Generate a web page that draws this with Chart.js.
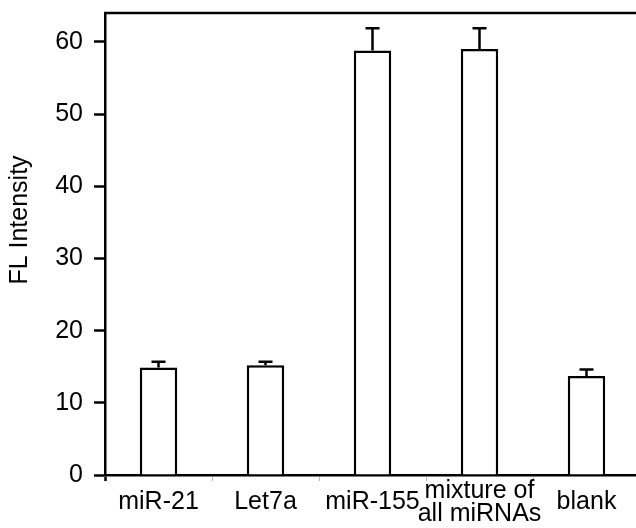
<!DOCTYPE html>
<html>
<head>
<meta charset="utf-8">
<script src="https://cdn.jsdelivr.net/npm/chart.js@4"></script>
<style>
    html, body { margin: 0; padding: 0; background: #fff; overflow: hidden; }
    #wrap { width: 660px; height: 528px; }
</style>
</head>
<body>
<div id="wrap"><canvas id="fl-chart"></canvas></div>
<script>
const categories = ['miR-21', 'Let7a', 'miR-155', ['mixture of', 'all miRNAs'], 'blank'];
const intensity = [14.9, 15.2, 58.8, 59.0, 13.7];
const errors = [0.8, 0.5, 3.1, 2.9, 0.9];
const yTicks = [0, 10, 20, 30, 40, 50, 60];

const family = "'Liberation Sans', Arial, sans-serif";

// error bars (upper half only), top frame line and y title
const errorBars = {
    id: 'errorBars',
    afterDatasetsDraw(chart) {
        const { ctx, scales: { y }, chartArea } = chart;
        const meta = chart.getDatasetMeta(0);
        ctx.save();
        ctx.strokeStyle = '#000';
        ctx.lineWidth = 2.5;
        meta.data.forEach((bar, i) => {
            const top = y.getPixelForValue(intensity[i]);
            const end = y.getPixelForValue(intensity[i] + errors[i]);
            ctx.beginPath();
            ctx.moveTo(bar.x, top);
            ctx.lineTo(bar.x, end);
            ctx.moveTo(bar.x - 7, end);
            ctx.lineTo(bar.x + 7, end);
            ctx.stroke();
        });
        ctx.beginPath();
        ctx.moveTo(chartArea.left - 1, chartArea.top);
        ctx.lineTo(chartArea.right, chartArea.top);
        ctx.stroke();

        ctx.translate(20, chartArea.top + 207);
        ctx.rotate(-Math.PI / 2);
        ctx.fillStyle = '#000';
        ctx.font = `25px ${family}`;
        ctx.textAlign = 'center';
        ctx.textBaseline = 'middle';
        ctx.fillText('FL Intensity', 0, 0);
        ctx.restore();
    }
};

new Chart(document.getElementById('fl-chart').getContext('2d'), {
    type: 'bar',
    data: {
        labels: categories,
        datasets: [{
            data: intensity,
            backgroundColor: '#fff',
            borderColor: '#000',
            borderWidth: 2.5,
            barPercentage: 0.35,
            categoryPercentage: 1,
        }]
    },
    options: {
        responsive: true,
        maintainAspectRatio: false,
        animation: false,
        events: [],
        layout: {
            padding: { top: 13, right: 20, left: 0, bottom: 0 }
        },
        plugins: {
            legend: { display: false },
            title: { display: false },
            tooltip: { enabled: false }
        },
        scales: {
            x: {
                offset: true,
                grid: {
                    offset: true,
                    drawOnChartArea: false,
                    tickLength: 6,
                    color: (c) => c.index === 0 ? '#000' : '#bbb',
                    tickWidth: (c) => c.index === 0 ? 2.5 : 1,
                },
                border: { display: true, color: '#000', width: 2.5 },
                ticks: {
                    color: '#000',
                    font: { family, size: 25, lineHeight: 0.92 },
                    padding: 10,
                    crossAlign: 'center',
                    maxRotation: 0,
                    autoSkip: false,
                },
                afterFit(scale) {
                    scale.height = 53;
                    scale.paddingLeft = 0;
                    scale.paddingRight = 0;
                }
            },
            y: {
                min: 0,
                max: 64,
                afterBuildTicks(scale) {
                    scale.ticks = yTicks.map(v => ({ value: v }));
                },
                grid: {
                    drawOnChartArea: false,
                    tickLength: 11,
                    color: '#000',
                    tickWidth: 2.5,
                },
                border: { display: true, color: '#000', width: 2.5 },
                ticks: {
                    color: '#000',
                    font: { family, size: 25 },
                    padding: 11,
                },
                afterFit(scale) {
                    scale.width = 105;
                    scale.paddingTop = 0;
                    scale.paddingBottom = 0;
                }
            }
        }
    },
    plugins: [errorBars]
});
</script>
</body>
</html>
